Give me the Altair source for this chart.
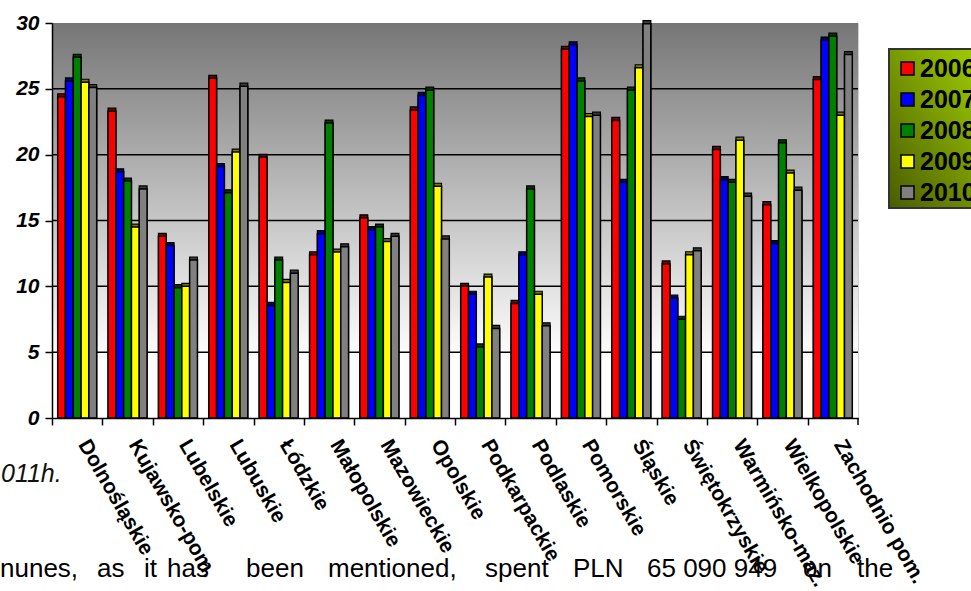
import altair as alt
import pandas as pd

categories = ["Dolnośląskie", "Kujawsko-pom.", "Lubelskie", "Lubuskie", "Łódzkie",
              "Małopolskie", "Mazowieckie", "Opolskie", "Podkarpackie", "Podlaskie",
              "Pomorskie", "Śląskie", "Świętokrzyskie", "Warmińsko-maz.",
              "Wielkopolskie", "Zachodnio pom."]
years = ["2006", "2007", "2008", "2009", "2010"]
v2006 = [24.4, 23.3, 13.8, 25.8, 19.8, 12.4, 15.2, 23.4, 10.0, 8.7, 28.0, 22.6, 11.7, 20.4, 16.2, 25.7]
v2007 = [25.6, 18.7, 13.1, 19.1, 8.55, 14.0, 14.3, 24.5, 9.4, 12.4, 28.35, 17.9, 9.1, 18.1, 13.25, 28.7]
v2008 = [27.4, 18.0, 9.9, 17.1, 12.0, 22.4, 14.5, 24.9, 5.4, 17.4, 25.6, 24.9, 7.5, 17.9, 20.9, 29.0]
v2009 = [25.5, 14.5, 10.0, 20.2, 10.3, 12.6, 13.4, 17.6, 10.7, 9.4, 22.9, 26.6, 12.4, 21.1, 18.6, 23.0]
v2010 = [25.1, 17.4, 12.0, 25.2, 11.0, 13.0, 13.8, 13.6, 6.8, 7.0, 23.0, 29.95, 12.7, 16.85, 17.3, 27.6]
y_ticks = [0, 5, 10, 15, 20, 25, 30]
grid_values = [5, 10, 15, 20, 25]

# page text around the embedded chart
side_note = "011h."
body_words = ["nunes,", "as", "it", "has", "been", "mentioned,", "spent", "PLN",
              "65 090 949", "on", "the"]
body_word_x = [0, 97, 144, 167, 246, 328, 485, 573, 647, 803, 857]

series = dict(zip(years, [v2006, v2007, v2008, v2009, v2010]))
df = pd.DataFrame([{"region": c, "year": y, "value": v}
                   for y in years for c, v in zip(categories, series[y])])

colors = ["#ff0000", "#0000ff", "#008000", "#ffff00", "#808080"]
side_colors = ["#7a0000", "#00007a", "#003c00", "#7a7a00", "#3c3c3c"]

FONT = "Liberation Sans"
W, H = 806, 395
LEFT, TOP = 52, 23
step = W / len(categories)
pad_in = 0.226
pad_out = pad_in / 2

xscale = alt.Scale(domain=categories, paddingInner=pad_in, paddingOuter=pad_out)
yscale = alt.Scale(domain=[0, 30], nice=False)

x_axis = alt.Axis(bandPosition=0, tickOffset=-pad_out * step, labelOffset=11,
                  labelAngle=60, labelAlign="left", labelBaseline="middle",
                  labelFont=FONT, labelFontSize=21, labelFontWeight="bold",
                  labelColor="black", labelPadding=16, tickSize=7, tickColor="black",
                  tickWidth=1.5, domainColor="black", domainWidth=1.5,
                  labelOverlap=False, labelLimit=400, zindex=1, grid=False, title=None)
y_axis = alt.Axis(values=y_ticks, labelFont=FONT, labelFontSize=21, labelFontWeight="bold",
                  labelFontStyle="italic", labelColor="black", labelPadding=6,
                  tickSize=7, tickColor="black", tickWidth=1.5, domainColor="black",
                  domainWidth=1.5, grid=False, title=None, zindex=1)

x_enc = alt.X("region:N", scale=xscale, sort=categories, axis=x_axis, title=None)
y_enc = alt.Y("value:Q", scale=yscale, axis=y_axis, stack=None, title=None)
xo_enc = alt.XOffset("year:N", sort=years, scale=alt.Scale(paddingInner=0, paddingOuter=0))

one = alt.Data(values=[{}])

bg = alt.Chart(one).mark_rect(
    fill=alt.Gradient(gradient="linear", x1=0, y1=0, x2=0, y2=1,
                      stops=[alt.GradientStop(offset=0, color="#767676"),
                             alt.GradientStop(offset=0.85, color="#ffffff"),
                             alt.GradientStop(offset=1, color="#ffffff")])
).encode(x=alt.value(0), x2=alt.value("width"), y=alt.value(0), y2=alt.value("height"))

grid = alt.Chart(pd.DataFrame({"value": grid_values})).mark_rule(
    color="black", strokeWidth=1.5
).encode(y=y_enc)

side = alt.Chart(df).mark_bar(
    xOffset=3, yOffset=-3, y2Offset=-3, stroke="black", strokeWidth=1.2
).encode(
    x=x_enc, xOffset=xo_enc, y=y_enc,
    color=alt.Color("year:N", scale=alt.Scale(domain=years, range=side_colors), legend=None)
)

front = alt.Chart(df).mark_bar(stroke="black", strokeWidth=1.5).encode(
    x=x_enc, xOffset=xo_enc, y=y_enc,
    color=alt.Color("year:N", scale=alt.Scale(domain=years, range=colors),
                    legend=alt.Legend(title=None, orient="none", legendX=836, legendY=26,
                                      symbolType="square", symbolSize=169,
                                      symbolStrokeColor="black", symbolStrokeWidth=1.5,
                                      symbolOpacity=1,
                                      labelFont=FONT, labelFontSize=25, labelFontWeight="bold",
                                      labelColor="black", labelOffset=0, rowPadding=5,
                                      padding=7))
)

end_tick = alt.Chart(one).mark_rule(color="black", strokeWidth=1.5, y2Offset=7).encode(
    x=alt.value("width"), y=alt.value("height"), y2=alt.value("height"))

legend_bg = alt.Chart(one).mark_rect(
    fill=alt.Gradient(gradient="linear", x1=1, y1=0, x2=0, y2=1,
                      stops=[alt.GradientStop(offset=0, color="#a6d600"),
                             alt.GradientStop(offset=1, color="#4a5c00")]),
    stroke="#333333", strokeWidth=2
).encode(x=alt.value(837), x2=alt.value(940), y=alt.value(26), y2=alt.value(185))

note = alt.Chart(one).mark_text(
    text=side_note, align="left", baseline="alphabetic", font=FONT, fontSize=25,
    fontStyle="italic", color="#111111"
).encode(x=alt.value(0 - LEFT + 1), y=alt.value(482 - TOP))

words = [
    alt.Chart(one).mark_text(text=w, align="left", baseline="alphabetic", font=FONT,
                             fontSize=26, color="black"
                             ).encode(x=alt.value(px - LEFT), y=alt.value(577 - TOP))
    for w, px in zip(body_words, body_word_x)
]

chart = alt.layer(
    bg, grid, side, front, end_tick, legend_bg, note, *words
).resolve_scale(color="independent").properties(
    width=W, height=H,
    autosize=alt.AutoSizeParams(type="none"),
    padding={"left": LEFT, "top": TOP, "right": 971 - LEFT - W, "bottom": 591 - TOP - H},
    background="white",
).configure_view(stroke="#d0d0d0", strokeWidth=1)

chart.save("out.html", embed_options={"renderer": "svg", "actions": False})
